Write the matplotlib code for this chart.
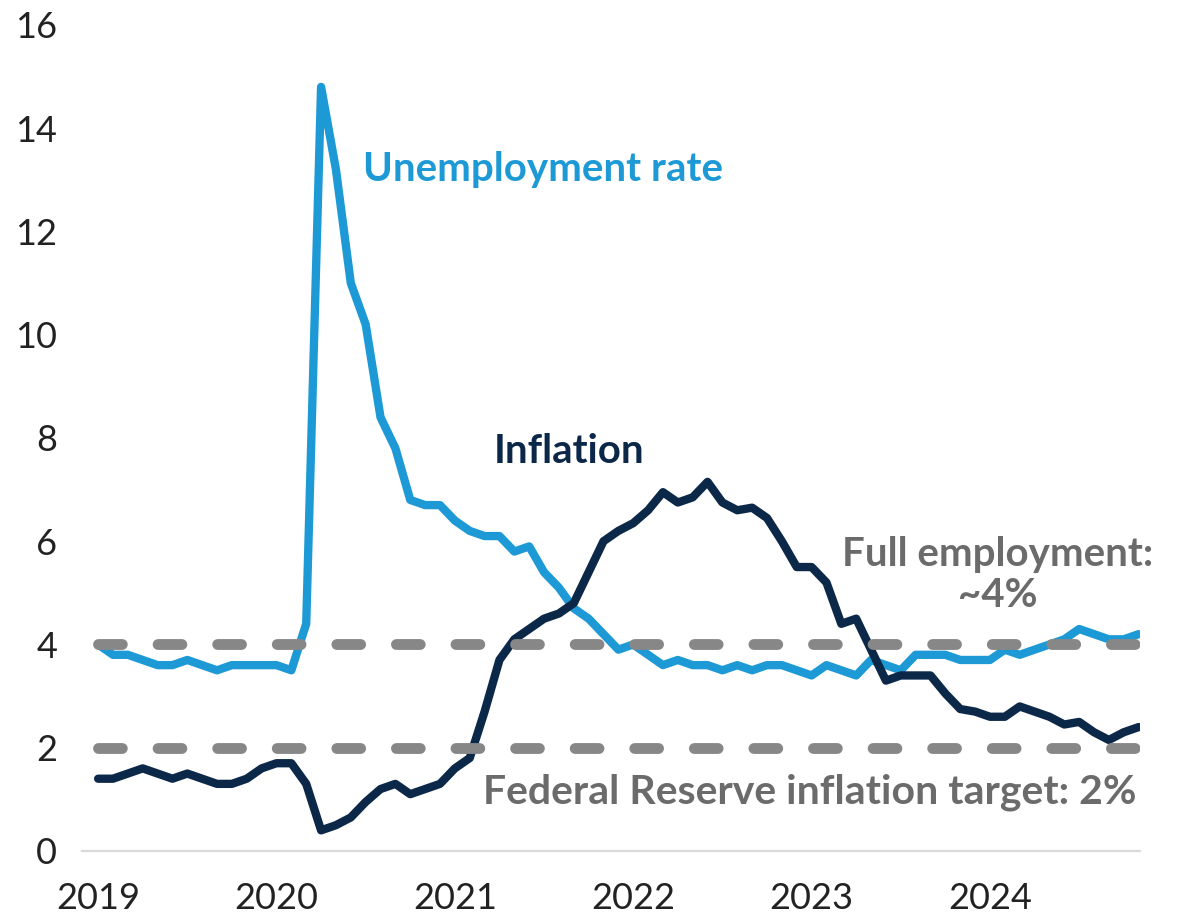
import numpy as np
import matplotlib
matplotlib.use("Agg")
from matplotlib import pyplot as plt

# monthly values, Jan 2019 .. Nov 2024
unemployment = [
    4.0, 3.8, 3.8, 3.7, 3.6, 3.6, 3.7, 3.6, 3.5, 3.6, 3.6, 3.6,
    3.6, 3.5, 4.4, 14.8, 13.2, 11.0, 10.2, 8.4, 7.8, 6.8, 6.7, 6.7,
    6.4, 6.2, 6.1, 6.1, 5.8, 5.9, 5.4, 5.1, 4.7, 4.5, 4.2, 3.9,
    4.0, 3.8, 3.6, 3.7, 3.6, 3.6, 3.5, 3.6, 3.5, 3.6, 3.6, 3.5,
    3.4, 3.6, 3.5, 3.4, 3.7, 3.6, 3.5, 3.8, 3.8, 3.8, 3.7, 3.7,
    3.7, 3.9, 3.8, 3.9, 4.0, 4.1, 4.3, 4.2, 4.1, 4.1, 4.2,
]
inflation = [
    1.4, 1.4, 1.5, 1.6, 1.5, 1.4, 1.5, 1.4, 1.3, 1.3, 1.4, 1.6,
    1.7, 1.7, 1.3, 0.4, 0.5, 0.65, 0.95, 1.2, 1.3, 1.1, 1.2, 1.3,
    1.6, 1.8, 2.7, 3.7, 4.1, 4.3, 4.5, 4.6, 4.8, 5.4, 6.0, 6.2,
    6.35, 6.6, 6.95, 6.75, 6.85, 7.15, 6.75, 6.6, 6.65, 6.45, 6.0, 5.5,
    5.5, 5.2, 4.4, 4.5, 3.9, 3.3, 3.4, 3.4, 3.4, 3.05, 2.75, 2.7,
    2.6, 2.6, 2.8, 2.7, 2.6, 2.45, 2.5, 2.3, 2.15, 2.3, 2.4,
]
year_labels = ['2019', '2020', '2021', '2022', '2023', '2024']
year_ticks = [0, 12, 24, 36, 48, 60]
full_employment = 4
inflation_target = 2

BLUE = '#1d9ad6'
NAVY = '#0c2849'
DASH = '#878787'
LABEL_GRAY = '#6b6b6b'

plt.rcParams['font.family'] = ['Lato', 'DejaVu Sans']

fig = plt.figure(figsize=(11.79, 9.18), dpi=100)
ax = fig.add_axes([0.0696, 0.0730, 0.8974, 0.8998])

months = np.arange(len(unemployment))
ax.plot(months, unemployment, color=BLUE, lw=6, solid_joinstyle='round', solid_capstyle='round', zorder=2)
ax.plot(months, inflation, color=NAVY, lw=6, solid_joinstyle='round', solid_capstyle='round', zorder=3)

for level in (full_employment, inflation_target):
    ax.plot([months[0], months[-1]], [level, level], color=DASH, lw=7.8,
            dashes=(2.2, 3.3), dash_capstyle='round', zorder=4)

ax.text(17.8, 13.2, 'Unemployment rate', color=BLUE, fontsize=29, fontweight='bold', ha='left', va='center')
ax.text(26.6, 7.73, 'Inflation', color=NAVY, fontsize=29, fontweight='bold', ha='left', va='center')
ax.text(60.5, 5.35, 'Full employment:\n~4%', color=LABEL_GRAY, fontsize=29, fontweight='bold',
        ha='center', va='center', multialignment='center', linespacing=1.15)
ax.text(47.9, 1.14, 'Federal Reserve inflation target: 2%', color=LABEL_GRAY, fontsize=29.5,
        fontweight='bold', ha='center', va='center')

ax.set_xlim(-1.08, 70.1)
ax.set_ylim(0, 16)
ax.set_yticks(np.arange(0, 17, 2))
ax.set_xticks(year_ticks)
ax.set_xticklabels(year_labels)
ax.tick_params(axis='both', length=0, labelsize=26, labelcolor='#222222')
ax.tick_params(axis='y', pad=18)
ax.tick_params(axis='x', pad=22)

for side in ('top', 'right', 'left'):
    ax.spines[side].set_visible(False)
ax.spines['bottom'].set_color('#dadada')
ax.spines['bottom'].set_linewidth(1.6)

fig.savefig('out.png', dpi=100)
